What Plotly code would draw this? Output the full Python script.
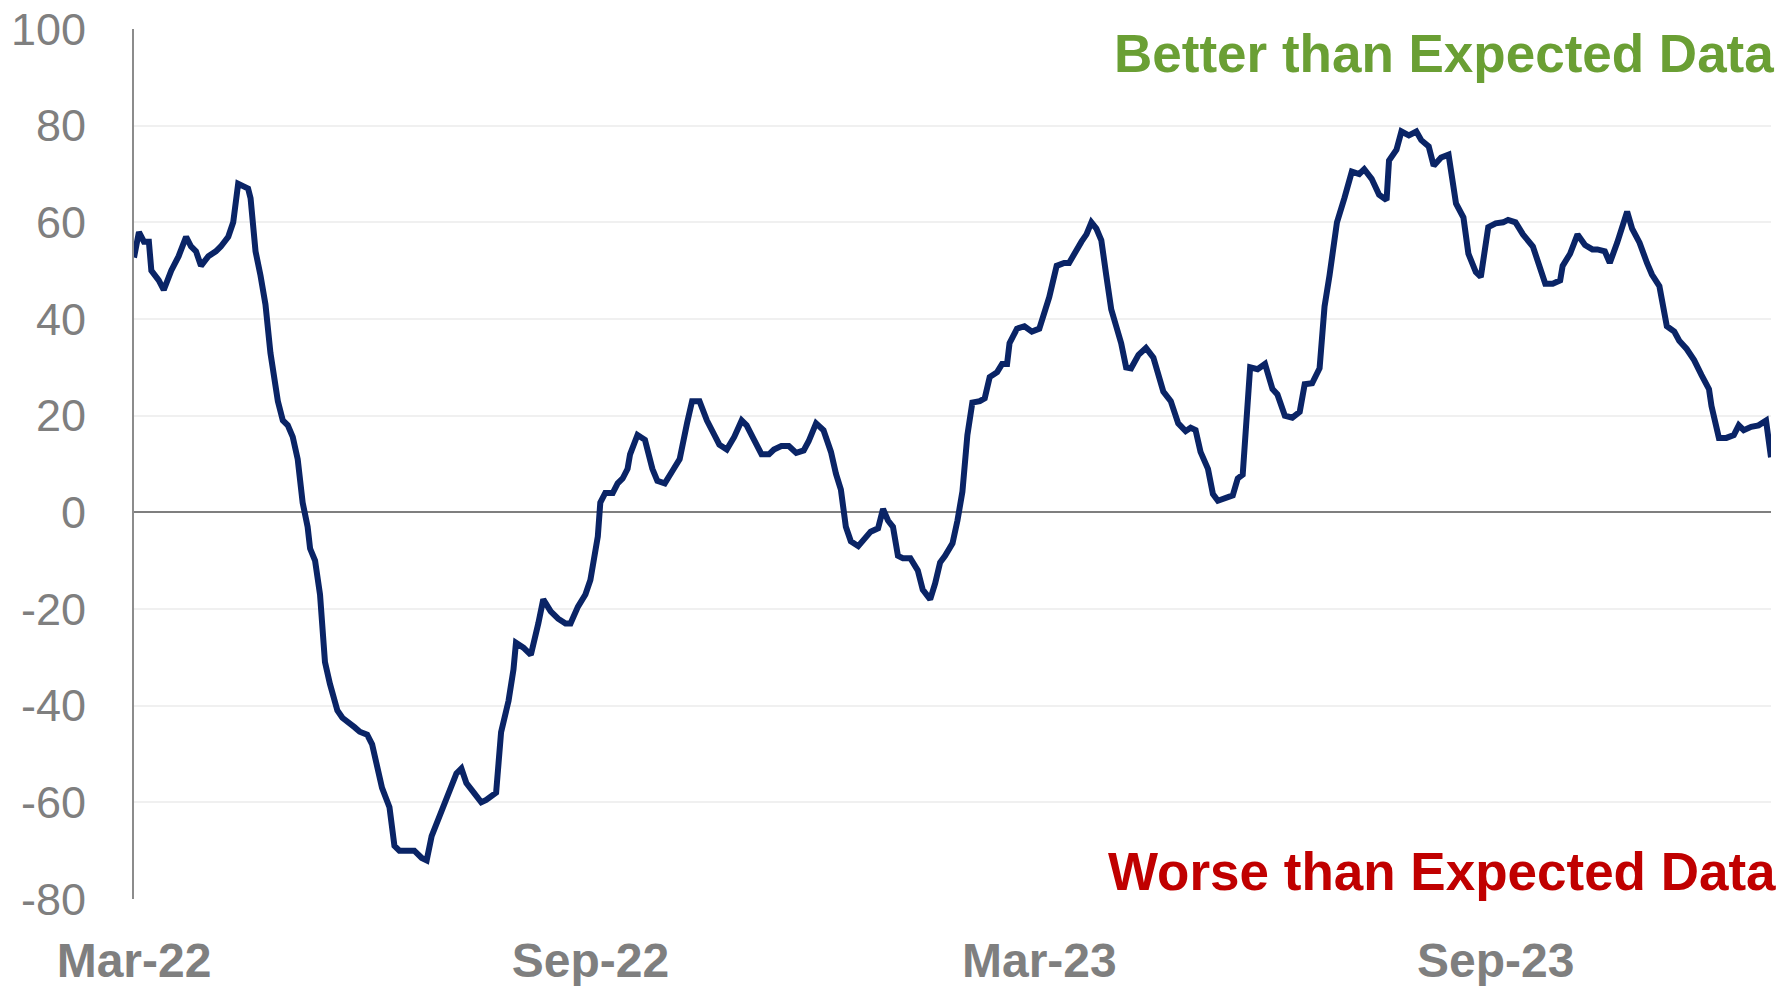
import pandas as pd
import plotly.graph_objects as go

# Days since 2022-03-01 and index values
day_offsets = [0, 2, 4, 6, 7, 10, 12, 15, 18, 21, 23, 25, 27, 30, 33, 35, 38, 40, 42, 46,
               47, 49, 51, 53, 55, 57, 58, 60, 62, 64, 66, 68, 70, 71, 73, 75, 77, 79, 81, 82,
               84, 87, 89, 91, 94, 96, 98, 100, 103, 105, 107, 110, 113, 116, 118, 120, 123, 126, 129, 130,
               132, 134, 137, 140, 142, 146, 148, 151, 153, 154, 157, 160, 163, 165, 168, 171, 174, 176, 179, 182,
               184, 187, 188, 190, 193, 195, 197, 199, 200, 203, 206, 209, 211, 214, 217, 220, 223, 225, 228, 231,
               234, 236, 239, 242, 245, 247, 250, 253, 256, 258, 261, 264, 267, 270, 272, 275, 278, 281, 283, 285,
               287, 289, 292, 294, 297, 300, 302, 304, 306, 308, 310, 313, 316, 318, 321, 323, 325, 327, 329, 330,
               332, 334, 336, 338, 341, 343, 345, 348, 350, 352, 353, 356, 359, 362, 365, 367, 369, 372, 375, 377,
               379, 382, 384, 386, 388, 390, 392, 394, 396, 398, 400, 402, 405, 408, 411, 413, 415, 418, 421, 424,
               426, 428, 430, 433, 435, 437, 440, 443, 445, 447, 450, 453, 456, 459, 461, 464, 467, 470, 472, 475,
               478, 480, 482, 485, 488, 491, 494, 496, 499, 502, 505, 506, 509, 511, 514, 517, 519, 522, 524, 527,
               530, 533, 536, 538, 541, 543, 546, 549, 552, 554, 557, 560, 564, 566, 569, 572, 575, 576, 579, 582,
               585, 588, 590, 593, 595, 598, 600, 602, 604, 607, 610, 612, 615, 618, 621, 623, 626, 629, 632, 635,
               636, 639, 642, 645, 647, 649, 652, 655, 658, 659, 660]

surprise_index = [52.7, 58, 56, 56, 50, 48, 46, 50, 53, 57, 55, 54, 51, 53, 54, 55, 57, 60, 68, 67,
                  65, 54, 49, 43, 33, 25.5, 23, 19, 18, 15.6, 11, 2, -3, -7.5, -10, -17, -31, -35.5, -39.5, -41,
                  -42.5, -43.5, -44.5, -45.4, -46, -48, -52.5, -57, -61, -69, -70, -70, -70, -71.5, -72, -67, -63, -58.5, -55, -54,
                  -53, -56, -58, -60, -59.5, -58, -45.5, -39, -32.5, -27, -28, -29.5, -23, -18, -20.5, -22, -23, -23, -19.5, -17,
                  -14, -5, 2, 4, 4, 6, 7, 9, 12, 16, 15, 9, 6.5, 6, 8.5, 11, 18.5, 23, 23, 19,
                  16, 14, 13, 15.6, 19, 18, 15, 12, 12, 13, 13.7, 13.7, 12.3, 12.8, 14.7, 18.4, 17, 12.5, 8, 4.7,
                  -3, -6, -7, -5.7, -4, -3.3, 0.7, -1.7, -3, -9, -9.5, -9.5, -12, -16, -18, -14.7, -10.4, -9, -7, -6.4,
                  -1.7, 4.3, 16, 22.7, 23, 23.6, 28, 29, 30.7, 30.7, 35, 38, 38.5, 37.4, 38, 41, 44.5, 51, 51.6, 51.6,
                  53.5, 56, 57.5, 60, 58.7, 56.3, 49, 42, 38.5, 35, 30, 29.8, 32.6, 34, 32, 28.4, 25, 23, 18.4, 16.8,
                  17.5, 17, 12.5, 9, 3.8, 2.4, 3, 3.5, 7, 7.8, 30, 29.6, 30.7, 25.5, 24.4, 20, 19.6, 20.8, 26.5, 26.7,
                  29.8, 42.6, 49, 60, 65, 70.5, 70, 71, 69, 65.7, 64.6, 72.8, 75, 78.8, 78, 78.8, 77, 75.7, 71.7, 73.4,
                  74, 63.9, 61, 53.5, 49.7, 48.7, 59, 59.8, 60, 60.5, 60, 57.5, 55, 51.6, 47.3, 47.3, 48, 51, 53.5, 57.5,
                  55.3, 54.4, 54.4, 54, 51.6, 55.8, 59, 62.2, 58.7, 55.8, 51.6, 49.2, 46.8, 38.5, 37.4, 35.5, 33.8, 31.5, 28.4, 25.5,
                  22, 15.4, 15.4, 16, 18, 17, 17.7, 18, 19, 16, 11.4]

tick_dates = ["2022-03-01", "2022-09-01", "2023-03-01", "2023-09-01"]
tick_labels = ["Mar-22", "Sep-22", "Mar-23", "Sep-23"]
y_ticks = [-80, -60, -40, -20, 0, 20, 40, 60, 80, 100]
y_tick_labels = ["-80", "-60", "-40", "-20", "0", "20", "40", "60", "80", "100"]

start = pd.Timestamp("2022-03-01")
dates = start + pd.to_timedelta(day_offsets, unit="D")

fig = go.Figure()
fig.add_trace(go.Scatter(
    x=dates, y=surprise_index, mode="lines",
    line=dict(color="#0a2466", width=6),
    hoverinfo="skip", showlegend=False,
))

fig.update_layout(
    width=1792, height=986,
    margin=dict(l=134, r=21, t=29, b=87),
    paper_bgcolor="white", plot_bgcolor="white",
    font=dict(family="Liberation Sans, Arial, sans-serif"),
    showlegend=False,
    xaxis=dict(
        range=[dates[0], dates[-1]],
        tickvals=tick_dates, ticktext=tick_labels,
        tickfont=dict(size=48, color="#7f7f7f", weight="bold"),
        showgrid=False, zeroline=False, showline=False,
        ticks="", ticklabelstandoff=29, automargin=False,
        ticklabeloverflow="allow",
    ),
    yaxis=dict(
        range=[-80, 100],
        tickvals=y_ticks, ticktext=y_tick_labels,
        tickfont=dict(size=45, color="#7f7f7f"),
        showgrid=True, gridcolor="#f0f0f0", gridwidth=1.5,
        zeroline=True, zerolinecolor="#7f7f7f", zerolinewidth=2,
        showline=True, linecolor="#8c8c8c", linewidth=2,
        ticks="", ticklabelstandoff=37, automargin=False,
        ticklabeloverflow="allow",
    ),
    annotations=[
        dict(text="<b>Better than Expected Data</b>", xref="paper", yref="paper",
             x=1.003, y=0.972, xanchor="right", yanchor="middle", showarrow=False,
             font=dict(size=53, color="#6a9f34")),
        dict(text="<b>Worse than Expected Data</b>", xref="paper", yref="paper",
             x=1.004, y=0.0315, xanchor="right", yanchor="middle", showarrow=False,
             font=dict(size=53, color="#c00000")),
    ],
)

# remove the default page margin so the figure fills the 1792x986 window exactly
fig.write_html("out.html", config={"displayModeBar": False},
               post_script="document.body.style.margin='0';")
